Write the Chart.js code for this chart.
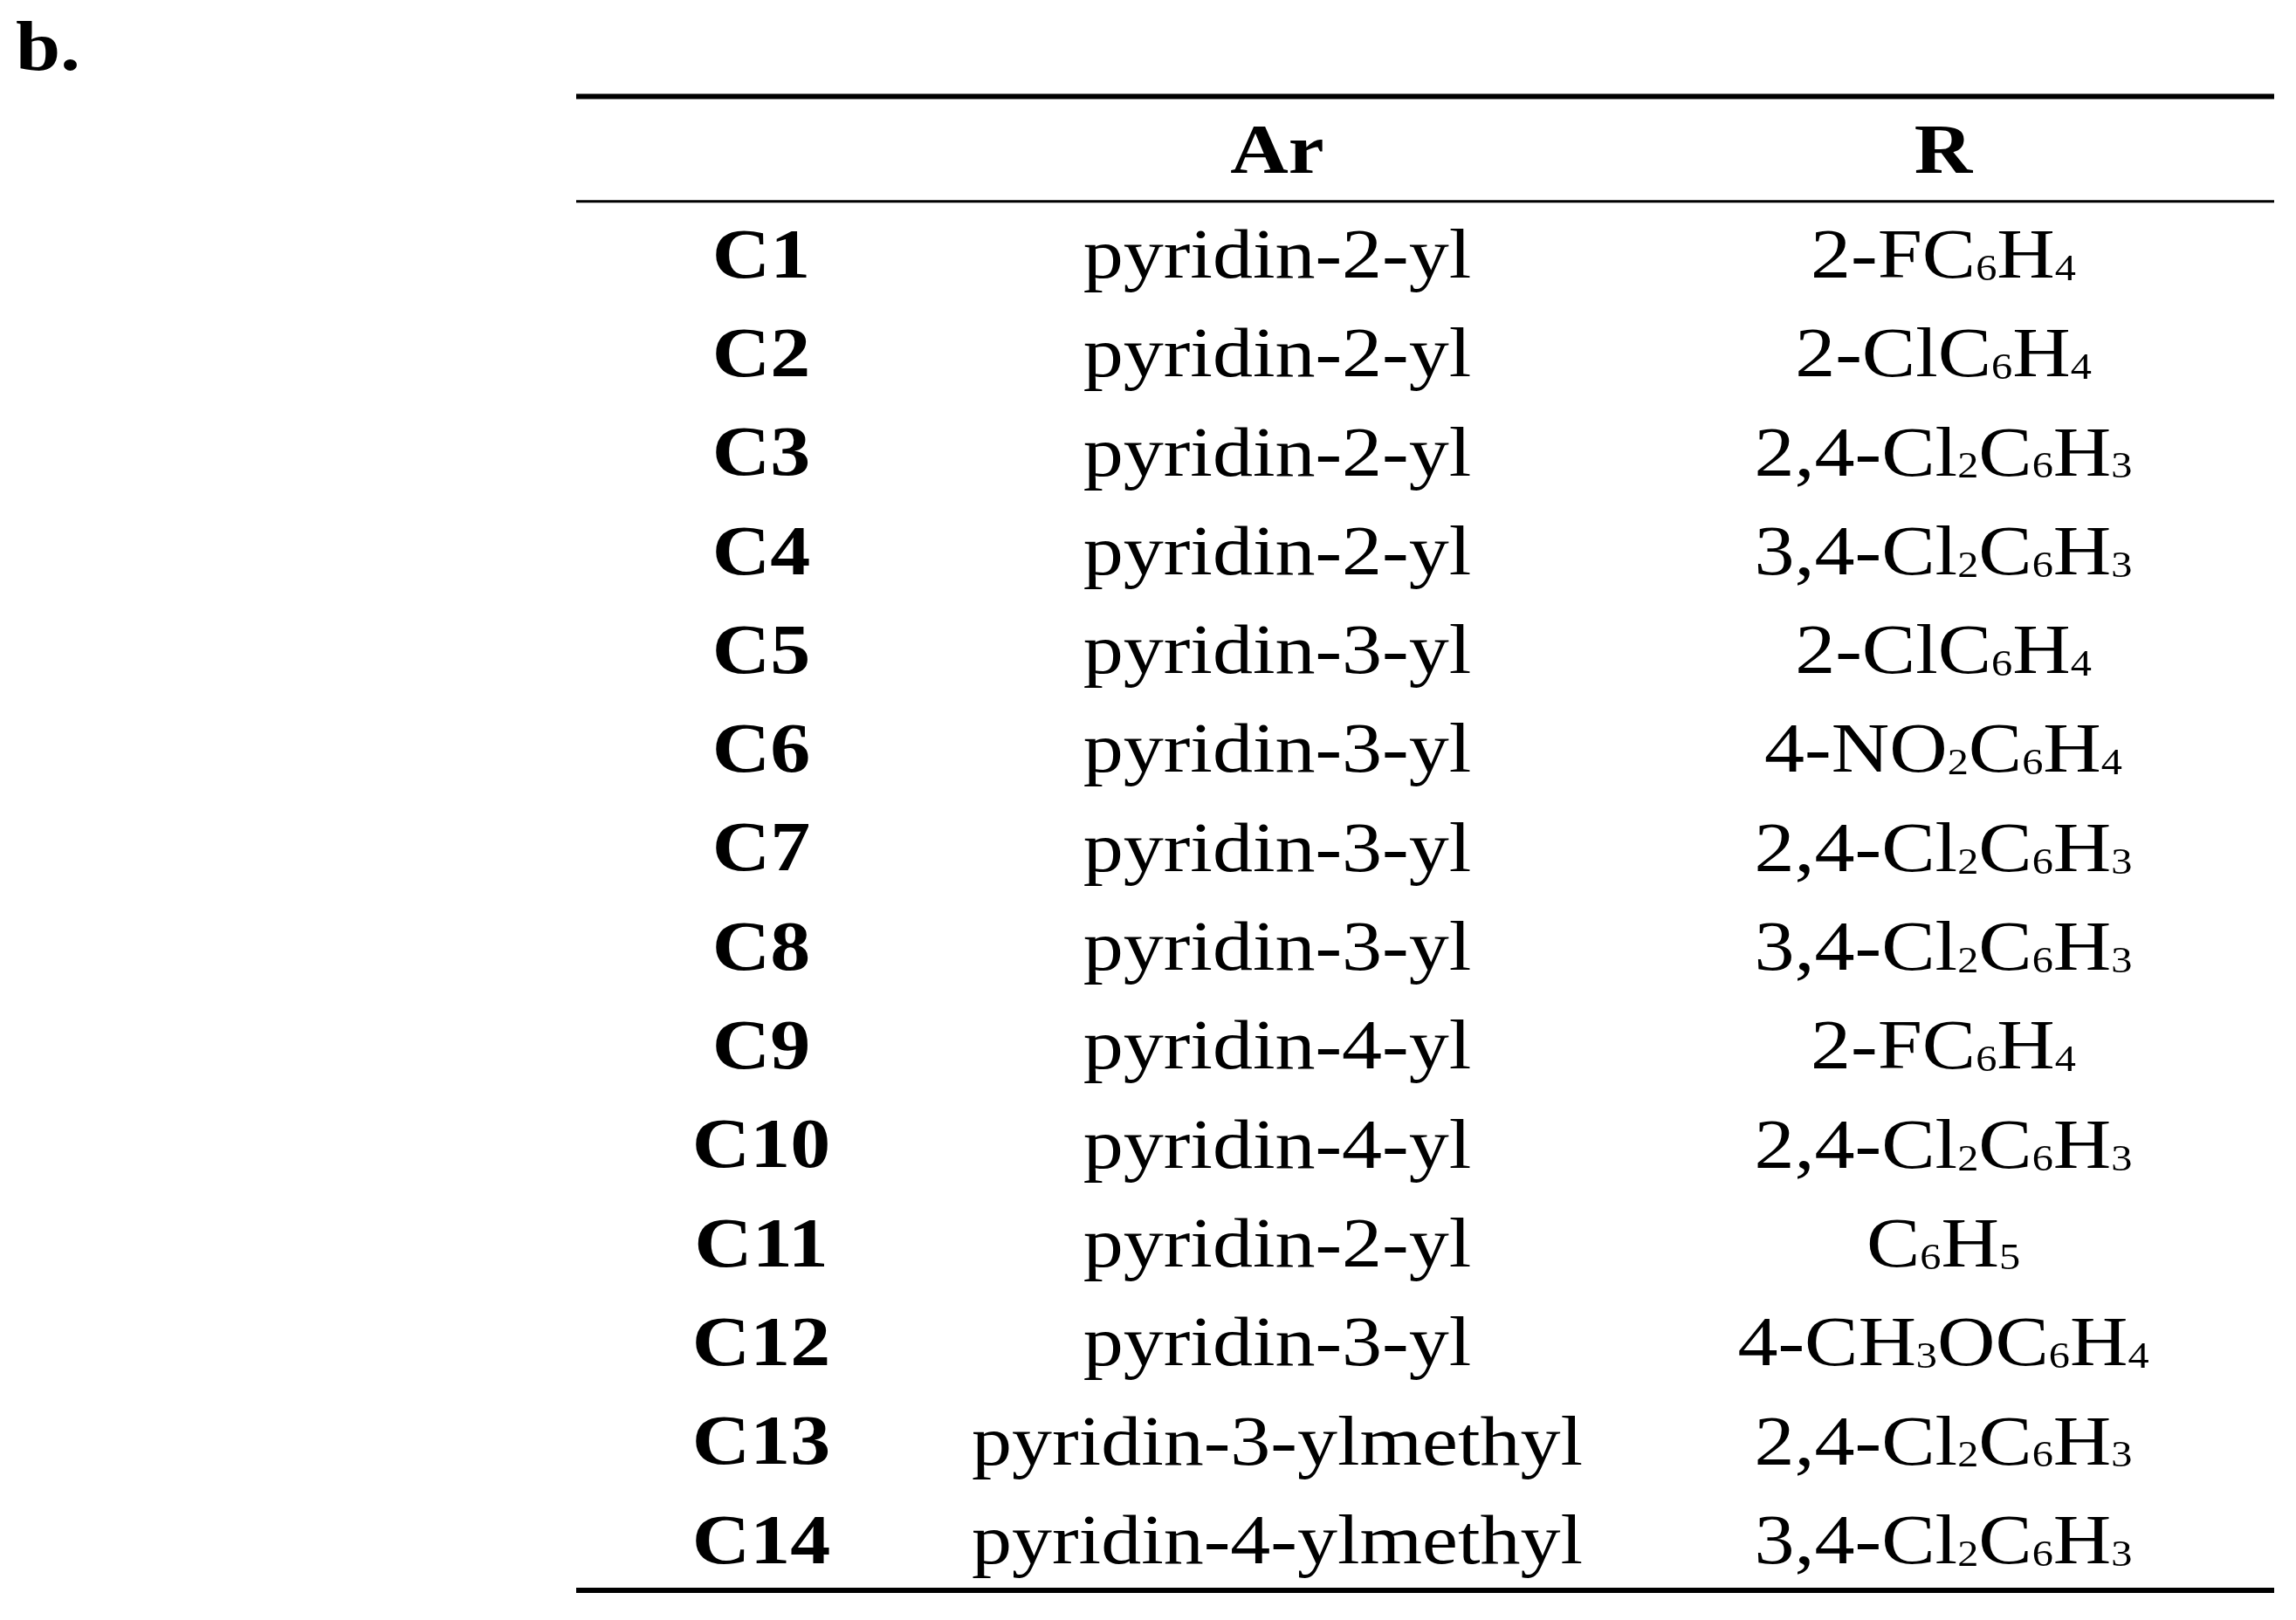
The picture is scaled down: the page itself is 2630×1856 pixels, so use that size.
<!DOCTYPE html>
<html><head><meta charset="utf-8">
<script src="https://cdn.jsdelivr.net/npm/chart.js@4"></script>
<style>html,body{margin:0;padding:0;background:#fff}#w{width:2630px;height:1856px}</style>
</head><body><div id="w"><canvas id="c"></canvas></div>
<script>
const compounds = ["C1","C2","C3","C4","C5","C6","C7","C8","C9","C10","C11","C12","C13","C14"];
const arValues = ["pyridin-2-yl","pyridin-2-yl","pyridin-2-yl","pyridin-2-yl","pyridin-3-yl","pyridin-3-yl","pyridin-3-yl","pyridin-3-yl","pyridin-4-yl","pyridin-4-yl","pyridin-2-yl","pyridin-3-yl","pyridin-3-ylmethyl","pyridin-4-ylmethyl"];
const rValues = ["2-FC_6H_4","2-ClC_6H_4","2,4-Cl_2C_6H_3","3,4-Cl_2C_6H_3","2-ClC_6H_4","4-NO_2C_6H_4","2,4-Cl_2C_6H_3","3,4-Cl_2C_6H_3","2-FC_6H_4","2,4-Cl_2C_6H_3","C_6H_5","4-CH_3OC_6H_4","2,4-Cl_2C_6H_3","3,4-Cl_2C_6H_3"];
const headers = ["", "Ar", "R"];
const panelLabel = "b.";

const colX = [872, 1463, 2226];
const FONT = "'Liberation Serif', 'DejaVu Serif', serif";
const FS = 80;
const STRETCH = 1.15;

function drawRich(ctx, s, x, y, bold) {
  const parts = [];
  for (let i = 0; i < s.length; i++) {
    if (s[i] === '_') { parts.push({t: s[i+1], sub: true}); i++; }
    else { if (parts.length && !parts[parts.length-1].sub) parts[parts.length-1].t += s[i]; else parts.push({t: s[i], sub: false}); }
  }
  const w = bold ? 'bold ' : '';
  const fN = w + FS + 'px ' + FONT, fS = w + Math.round(FS*0.52) + 'px ' + FONT;
  let tot = 0;
  parts.forEach(p => { ctx.font = p.sub ? fS : fN; p.w = ctx.measureText(p.t).width; tot += p.w; });
  ctx.save();
  ctx.translate(x, y); ctx.scale(STRETCH, 1);
  let cx = -tot/2;
  ctx.textAlign = 'left';
  parts.forEach(p => {
    ctx.font = p.sub ? fS : fN;
    ctx.fillText(p.t, cx, p.sub ? FS*0.16 : 0);
    cx += p.w;
  });
  ctx.restore();
}

const tablePlugin = {
  id: 'table',
  afterDatasetsDraw(chart) {
    const ctx = chart.ctx, xs = chart.scales.x, ys = chart.scales.y;
    ctx.save();
    ctx.fillStyle = '#000'; ctx.strokeStyle = '#000';
    ctx.textBaseline = 'middle';
    const line = (v, lw) => {
      const y = ys.getPixelForValue(v);
      ctx.lineWidth = lw; ctx.beginPath();
      ctx.moveTo(xs.getPixelForValue(660), y); ctx.lineTo(xs.getPixelForValue(2605), y); ctx.stroke();
    };
    line(-1.645, 6); line(-0.585, 3); line(13.46, 6);
    drawRich(ctx, panelLabel, xs.getPixelForValue(55), ys.getPixelForValue(-2.1), true);
    headers.forEach((h, i) => { if (h) drawRich(ctx, h, xs.getPixelForValue(colX[i]), ys.getPixelForValue(-1.06), true); });
    chart.data.datasets.forEach((ds, di) => {
      const meta = chart.getDatasetMeta(di);
      meta.data.forEach((pt, i) => drawRich(ctx, ds.labels[i], pt.x, pt.y, di === 0));
    });
    ctx.restore();
  }
};

const cols = [compounds, arValues, rValues];
new Chart(document.getElementById('c'), {
  type: 'scatter',
  data: { datasets: cols.map((arr, ci) => ({
    labels: arr,
    data: arr.map((_, i) => ({x: colX[ci], y: i})),
    pointRadius: 0, pointHoverRadius: 0
  })) },
  options: {
    responsive: true, maintainAspectRatio: false, animation: false,
    layout: { padding: 0 },
    plugins: { legend: {display: false}, tooltip: {enabled: false} },
    scales: {
      x: { type: 'linear', min: 0, max: 2630, display: false },
      y: { type: 'linear', min: -2.621, max: 13.76, reverse: true, display: false }
    }
  },
  plugins: [tablePlugin]
});
</script></body></html>
